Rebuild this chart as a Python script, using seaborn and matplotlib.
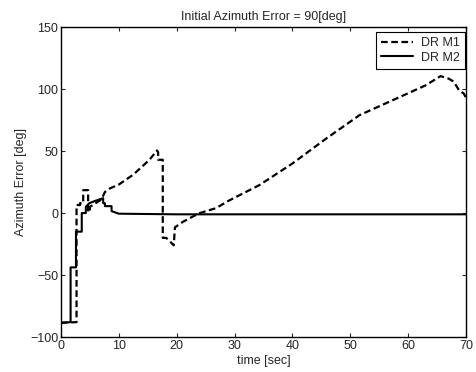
import matplotlib
matplotlib.use("Agg")
import matplotlib.pyplot as plt
import seaborn as sns
import pandas as pd

# ---- data ----
t_m1 = [0, 2.7, 2.7, 3.3, 3.3, 3.85, 3.85, 4.7, 4.7, 5.0, 5.0, 6.0, 7.0, 7.6, 8.5, 10, 12.5,
        15.3, 16.6, 16.8, 16.8, 17.6, 17.6, 18.2, 19.5, 19.7, 21.1, 22.5, 24, 26.8, 29,
        34.3, 40, 45.8, 51.6, 57.3, 63, 65.6, 67, 67.9, 68.8, 69.6, 70]
y_m1 = [-88.5, -88, 6.5, 6.5, 8, 8, 18.5, 18.5, 1, 1, 5, 8, 11, 17, 20, 23, 31,
        43, 50.5, 49, 43, 43, -20, -20, -26, -11.5, -7, -3.5, 0, 4, 10,
        22.6, 40, 60, 79, 91, 103, 110.5, 108.5, 106, 99, 96.5, 93]

t_m2 = [0, 1.67, 1.67, 2.6, 2.6, 3.6, 3.6, 4.3, 4.3, 4.9, 6.0, 7.3, 7.3, 7.6, 7.6,
        8.75, 8.75, 10, 20, 30, 70]
y_m2 = [-88.5, -88, -43.8, -43.8, -15, -15, 0, 0, 5, 8, 10, 12, 8, 8, 5.6,
        5.6, 1.6, -0.5, -1, -1, -1]

series_names = ["DR M1", "DR M2"]
x_ticks = [0, 10, 20, 30, 40, 50, 60, 70]
y_ticks = [-100, -50, 0, 50, 100, 150]
title = "Initial Azimuth Error = 90[deg]"
x_label = "time [sec]"
y_label = "Azimuth Error [deg]"

sns.set_style("white", {
    "xtick.direction": "in", "ytick.direction": "in",
    "xtick.bottom": True, "ytick.left": True,
    "axes.edgecolor": "black",
})
plt.rcParams["font.family"] = ["Liberation Sans", "DejaVu Sans"]

fig = plt.figure(figsize=(4.76, 3.72), dpi=100)
ax = fig.add_axes([0.128, 0.094, 0.851, 0.833])

df1 = pd.DataFrame({"t": t_m1, "y": y_m1})
df2 = pd.DataFrame({"t": t_m2, "y": y_m2})
sns.lineplot(data=df1, x="t", y="y", estimator=None, sort=False, ax=ax,
             color="black", lw=1.6, linestyle=(0, (3, 1.6)), label=series_names[0])
sns.lineplot(data=df2, x="t", y="y", estimator=None, sort=False, ax=ax,
             color="black", lw=1.5, label=series_names[1])

ax.set_xlim(0, 70)
ax.set_ylim(-100, 150)
ax.set_xticks(x_ticks)
ax.set_yticks(y_ticks)
ax.tick_params(axis="both", which="both", direction="in", top=True, right=True,
               length=3, width=0.8, labelsize=9, pad=2)
for s in ax.spines.values():
    s.set_linewidth(1.0)
    s.set_color("black")
ax.set_title(title, fontsize=9, pad=5)
ax.set_xlabel(x_label, fontsize=9, labelpad=2)
ax.set_ylabel(y_label, fontsize=9, labelpad=2)
leg = ax.legend(loc="upper right", bbox_to_anchor=(0.997, 0.984), borderaxespad=0,
                fontsize=9, frameon=True, fancybox=False,
                edgecolor="black", framealpha=1,
                handlelength=2.6, borderpad=0.4, labelspacing=0.2,
                handletextpad=0.6)
leg.get_frame().set_linewidth(0.8)

fig.savefig("out.png", dpi=100)
